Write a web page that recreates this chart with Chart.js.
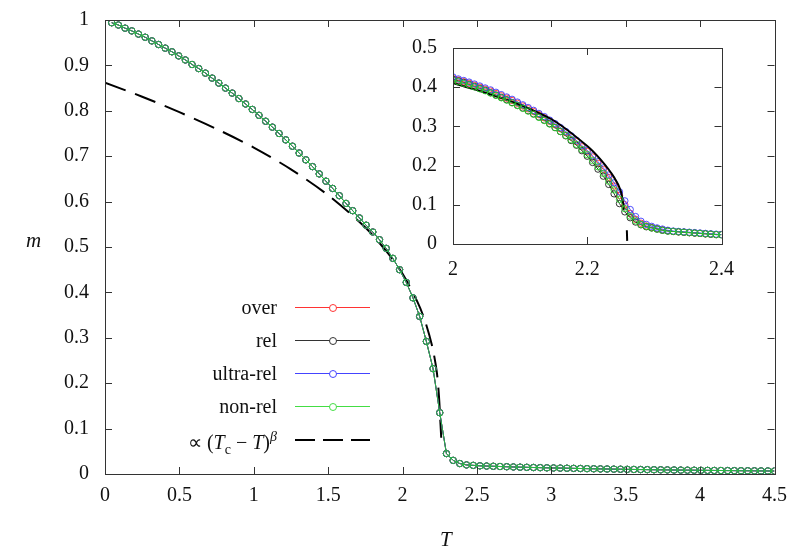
<!DOCTYPE html>
<html><head><meta charset="utf-8">
<script src="https://cdn.jsdelivr.net/npm/chart.js@4/dist/chart.umd.min.js"></script>
<style>
body{margin:0;background:#fff;font-family:"Liberation Serif",serif;}
#wrap{position:relative;width:789px;height:554px;}
#main{position:absolute;left:0;top:0;}
#insetBox{position:absolute;left:390px;top:28px;width:350px;height:260px;}
.lbl{position:absolute;font-size:21px;color:#111;white-space:nowrap;}
.leg{position:absolute;right:512px;font-size:20px;color:#111;text-align:right;white-space:nowrap;line-height:20px;}
.sl{position:absolute;left:295px;width:75px;height:0;}
.sc{position:absolute;left:329px;width:6px;height:6px;border-radius:50%;background:#fff;}
</style></head><body>
<div id="wrap">
<canvas id="main" width="789" height="554"></canvas>
<div id="insetBox"><canvas id="inset" width="350" height="260"></canvas></div>
<div class="lbl" style="left:26px;top:228px;font-style:italic;">m</div>
<div class="lbl" style="left:440px;top:527px;font-style:italic;">T</div>
<div class="leg" style="top:297px">over</div>
<div class="leg" style="top:330px">rel</div>
<div class="leg" style="top:363px">ultra-rel</div>
<div class="leg" style="top:396px">non-rel</div>
<div class="leg" style="top:427px">∝ (<i>T</i><sub style="font-size:14px">c</sub> − <i>T</i>)<sup style="font-size:14px"><i>β</i></sup></div>
<div class="sl" style="top:307px;border-top:1px solid #f33"></div><div class="sc" style="top:304px;border:1px solid #f33"></div>
<div class="sl" style="top:340px;border-top:1px solid #333"></div><div class="sc" style="top:337px;border:1px solid #333"></div>
<div class="sl" style="top:373px;border-top:1px solid #44f"></div><div class="sc" style="top:370px;border:1px solid #44f"></div>
<div class="sl" style="top:406px;border-top:1px solid #4d4"></div><div class="sc" style="top:403px;border:1px solid #4d4"></div>
<div class="sl" style="top:439px;height:2px;background:repeating-linear-gradient(90deg,#000 0 20px,transparent 20px 28px);"></div>
</div>
<script>
// ---- data ----
const mainT = [0.045,0.09,0.135,0.18,0.225,0.27,0.315,0.36,0.405,0.45,0.495,0.54,0.585,0.63,0.675,0.72,0.765,0.81,0.855,0.9,0.945,0.99,1.035,1.08,1.125,1.17,1.215,1.26,1.305,1.35,1.395,1.44,1.485,1.53,1.575,1.62,1.665,1.71,1.755,1.8,1.845,1.89,1.935,1.98,2.025,2.07,2.115,2.16,2.205,2.25,2.295,2.34,2.385,2.43,2.475,2.52,2.565,2.61,2.655,2.7,2.745,2.79,2.835,2.88,2.925,2.97,3.015,3.06,3.105,3.15,3.195,3.24,3.285,3.33,3.375,3.42,3.465,3.51,3.555,3.6,3.645,3.69,3.735,3.78,3.825,3.87,3.915,3.96,4.005,4.05,4.095,4.14,4.185,4.23,4.275,4.32,4.365,4.41,4.455,4.5];
const mainM = [0.994,0.989,0.982,0.976,0.969,0.962,0.954,0.946,0.938,0.930,0.921,0.912,0.902,0.893,0.883,0.872,0.861,0.850,0.839,0.827,0.815,0.803,0.790,0.777,0.764,0.750,0.736,0.722,0.707,0.692,0.677,0.661,0.645,0.629,0.613,0.596,0.580,0.564,0.548,0.533,0.516,0.497,0.475,0.450,0.422,0.388,0.347,0.292,0.232,0.135,0.045,0.030,0.023,0.020,0.019,0.018,0.0175,0.017,0.0165,0.016,0.0155,0.015,0.0147,0.0143,0.014,0.0136,0.0133,0.013,0.0127,0.0124,0.0121,0.0118,0.0115,0.0112,0.011,0.0107,0.0105,0.0102,0.010,0.0098,0.0096,0.0094,0.0092,0.009,0.0088,0.0086,0.0084,0.0083,0.0081,0.008,0.0078,0.0077,0.0075,0.0074,0.0072,0.0071,0.007,0.0068,0.0067,0.0066];
const fitT = [0,0.25,0.5,0.75,1.0,1.25,1.5,1.75,1.9,2.0,2.1,2.15,2.2,2.23,2.245,2.255,2.26];
const fitM = [0.862,0.831,0.797,0.760,0.719,0.671,0.614,0.543,0.487,0.441,0.379,0.338,0.280,0.225,0.17,0.11,0.08];
const insT = [2.000,2.008,2.016,2.024,2.032,2.040,2.048,2.056,2.064,2.072,2.080,2.088,2.096,2.104,2.112,2.120,2.128,2.136,2.144,2.152,2.160,2.168,2.176,2.184,2.192,2.200,2.208,2.216,2.224,2.232,2.240,2.248,2.256,2.264,2.272,2.280,2.288,2.296,2.304,2.312,2.320,2.328,2.336,2.344,2.352,2.360,2.368,2.376,2.384,2.392,2.400];
const insOver = [0.422,0.418,0.414,0.410,0.405,0.400,0.395,0.390,0.384,0.378,0.372,0.366,0.359,0.352,0.345,0.338,0.330,0.322,0.313,0.304,0.294,0.284,0.273,0.261,0.248,0.236,0.222,0.206,0.190,0.170,0.148,0.124,0.100,0.078,0.063,0.053,0.046,0.042,0.039,0.036,0.034,0.032,0.031,0.030,0.029,0.028,0.027,0.026,0.025,0.024,0.024];
const insRel = [0.420,0.416,0.412,0.407,0.402,0.397,0.392,0.386,0.380,0.374,0.368,0.361,0.354,0.347,0.340,0.332,0.324,0.316,0.307,0.297,0.287,0.276,0.264,0.252,0.238,0.224,0.208,0.191,0.173,0.152,0.128,0.103,0.082,0.067,0.056,0.049,0.044,0.041,0.038,0.035,0.033,0.032,0.031,0.030,0.029,0.028,0.027,0.026,0.025,0.024,0.024];
const insUltra = [0.426,0.421,0.417,0.413,0.408,0.403,0.398,0.393,0.387,0.381,0.375,0.369,0.362,0.355,0.348,0.341,0.333,0.325,0.316,0.307,0.297,0.287,0.276,0.264,0.251,0.239,0.225,0.210,0.194,0.176,0.156,0.133,0.110,0.088,0.070,0.058,0.050,0.045,0.041,0.038,0.035,0.033,0.032,0.031,0.030,0.029,0.028,0.027,0.026,0.025,0.024];
const insNon = [0.418,0.414,0.410,0.406,0.401,0.396,0.391,0.385,0.379,0.373,0.367,0.360,0.353,0.346,0.339,0.331,0.323,0.315,0.306,0.297,0.287,0.277,0.266,0.254,0.241,0.228,0.213,0.197,0.180,0.160,0.138,0.114,0.090,0.071,0.059,0.050,0.045,0.041,0.038,0.035,0.033,0.032,0.031,0.030,0.029,0.028,0.027,0.026,0.025,0.024,0.023];
const insFitT = [2.0,2.05,2.1,2.15,2.2,2.22,2.24,2.25,2.255,2.257,2.259,2.2595];
const insFitM = [0.410,0.385,0.355,0.315,0.250,0.215,0.170,0.135,0.088,null,0.035,0.008];
const mainXTicks = [0,0.5,1,1.5,2,2.5,3,3.5,4,4.5];
const mainYTicks = [0,0.1,0.2,0.3,0.4,0.5,0.6,0.7,0.8,0.9,1];
const insXTicks = [2,2.2,2.4];
const insYTicks = [0,0.1,0.2,0.3,0.4,0.5];

const zip=(a,b)=>a.map((x,i)=>({x:x,y:b[i]}));
const col={over:'rgba(255,40,40,0.85)',rel:'rgba(20,20,20,0.85)',ultra:'rgba(50,50,255,0.85)',non:'rgba(40,210,40,0.85)'};
function ser(lbl,c,d){return {label:lbl,data:d,borderColor:c,backgroundColor:'rgba(0,0,0,0)',borderWidth:1,pointRadius:3.2,pointBorderWidth:1,pointStyle:'circle',showLine:true,tension:0};}

const framePlugin={id:'frame',afterDraw(ch){
  const a=ch.chartArea,c=ch.ctx,xs=ch.scales.x,ys=ch.scales.y;
  c.save();c.strokeStyle='#333';c.lineWidth=1;
  xs.ticks.forEach(t=>{const p=Math.round(xs.getPixelForValue(t.value))+0.5;
    c.beginPath();c.moveTo(p,a.bottom);c.lineTo(p,a.bottom-7);c.moveTo(p,a.top);c.lineTo(p,a.top+7);c.stroke();});
  ys.ticks.forEach(t=>{const p=Math.round(ys.getPixelForValue(t.value))+0.5;
    c.beginPath();c.moveTo(a.left,p);c.lineTo(a.left+7,p);c.moveTo(a.right,p);c.lineTo(a.right-7,p);c.stroke();});
  c.strokeRect(Math.round(a.left)+0.5,Math.round(a.top)+0.5,Math.round(a.right-a.left),Math.round(a.bottom-a.top));
  c.restore();}};

function axes(xmin,xmax,ymin,ymax,xt,yt,yw,xh,pad){
  return {
    x:{type:'linear',min:xmin,max:xmax,grid:{display:false},border:{display:false},
       afterBuildTicks:s=>{s.ticks=xt.map(v=>({value:v}));},
       afterFit:s=>{s.height=xh;},
       ticks:{color:'#111',font:{family:'Liberation Serif',size:20},padding:pad,maxRotation:0,callback:v=>String(v)}},
    y:{type:'linear',min:ymin,max:ymax,grid:{display:false},border:{display:false},
       afterBuildTicks:s=>{s.ticks=yt.map(v=>({value:v}));},
       afterFit:s=>{s.width=yw;},
       ticks:{color:'#111',font:{family:'Liberation Serif',size:20},padding:8,callback:v=>String(v)}}
  };
}
Chart.defaults.animation=false;
new Chart(document.getElementById('main'),{type:'scatter',
  data:{datasets:[
    ser('non-rel',col.non,zip(mainT,mainM)),
    ser('ultra-rel',col.ultra,zip(mainT,mainM)),
    ser('rel',col.rel,zip(mainT,mainM)),
    ser('over',col.over,zip(mainT,mainM)),
    {label:'fit',data:zip(fitT,fitM),borderColor:'#000',borderWidth:2,borderDash:[22,10],pointRadius:0,showLine:true,tension:0.3}]},
  options:{responsive:false,layout:{padding:{top:-2,right:14,left:0,bottom:0}},
    plugins:{legend:{display:false},tooltip:{enabled:false}},
    scales:axes(0,4.5,0,1,mainXTicks,mainYTicks,105,80,2)},
  plugins:[framePlugin]});
new Chart(document.getElementById('inset'),{type:'scatter',
  data:{datasets:[
    ser('non-rel',col.non,zip(insT,insNon)),
    {label:'fit',data:zip(insFitT,insFitM),borderColor:'#000',borderWidth:2,pointRadius:0,showLine:true,spanGaps:false,tension:0.2},
    ser('ultra-rel',col.ultra,zip(insT,insUltra)),
    ser('rel',col.rel,zip(insT,insRel)),
    ser('over',col.over,zip(insT,insOver))]},
  options:{responsive:false,layout:{padding:{top:15,right:10,left:0,bottom:0}},
    plugins:{legend:{display:false},tooltip:{enabled:false}},
    scales:axes(2,2.4,0,0.5,insXTicks,insYTicks,63,44,6)},
  plugins:[framePlugin]});
</script>
</body></html>
